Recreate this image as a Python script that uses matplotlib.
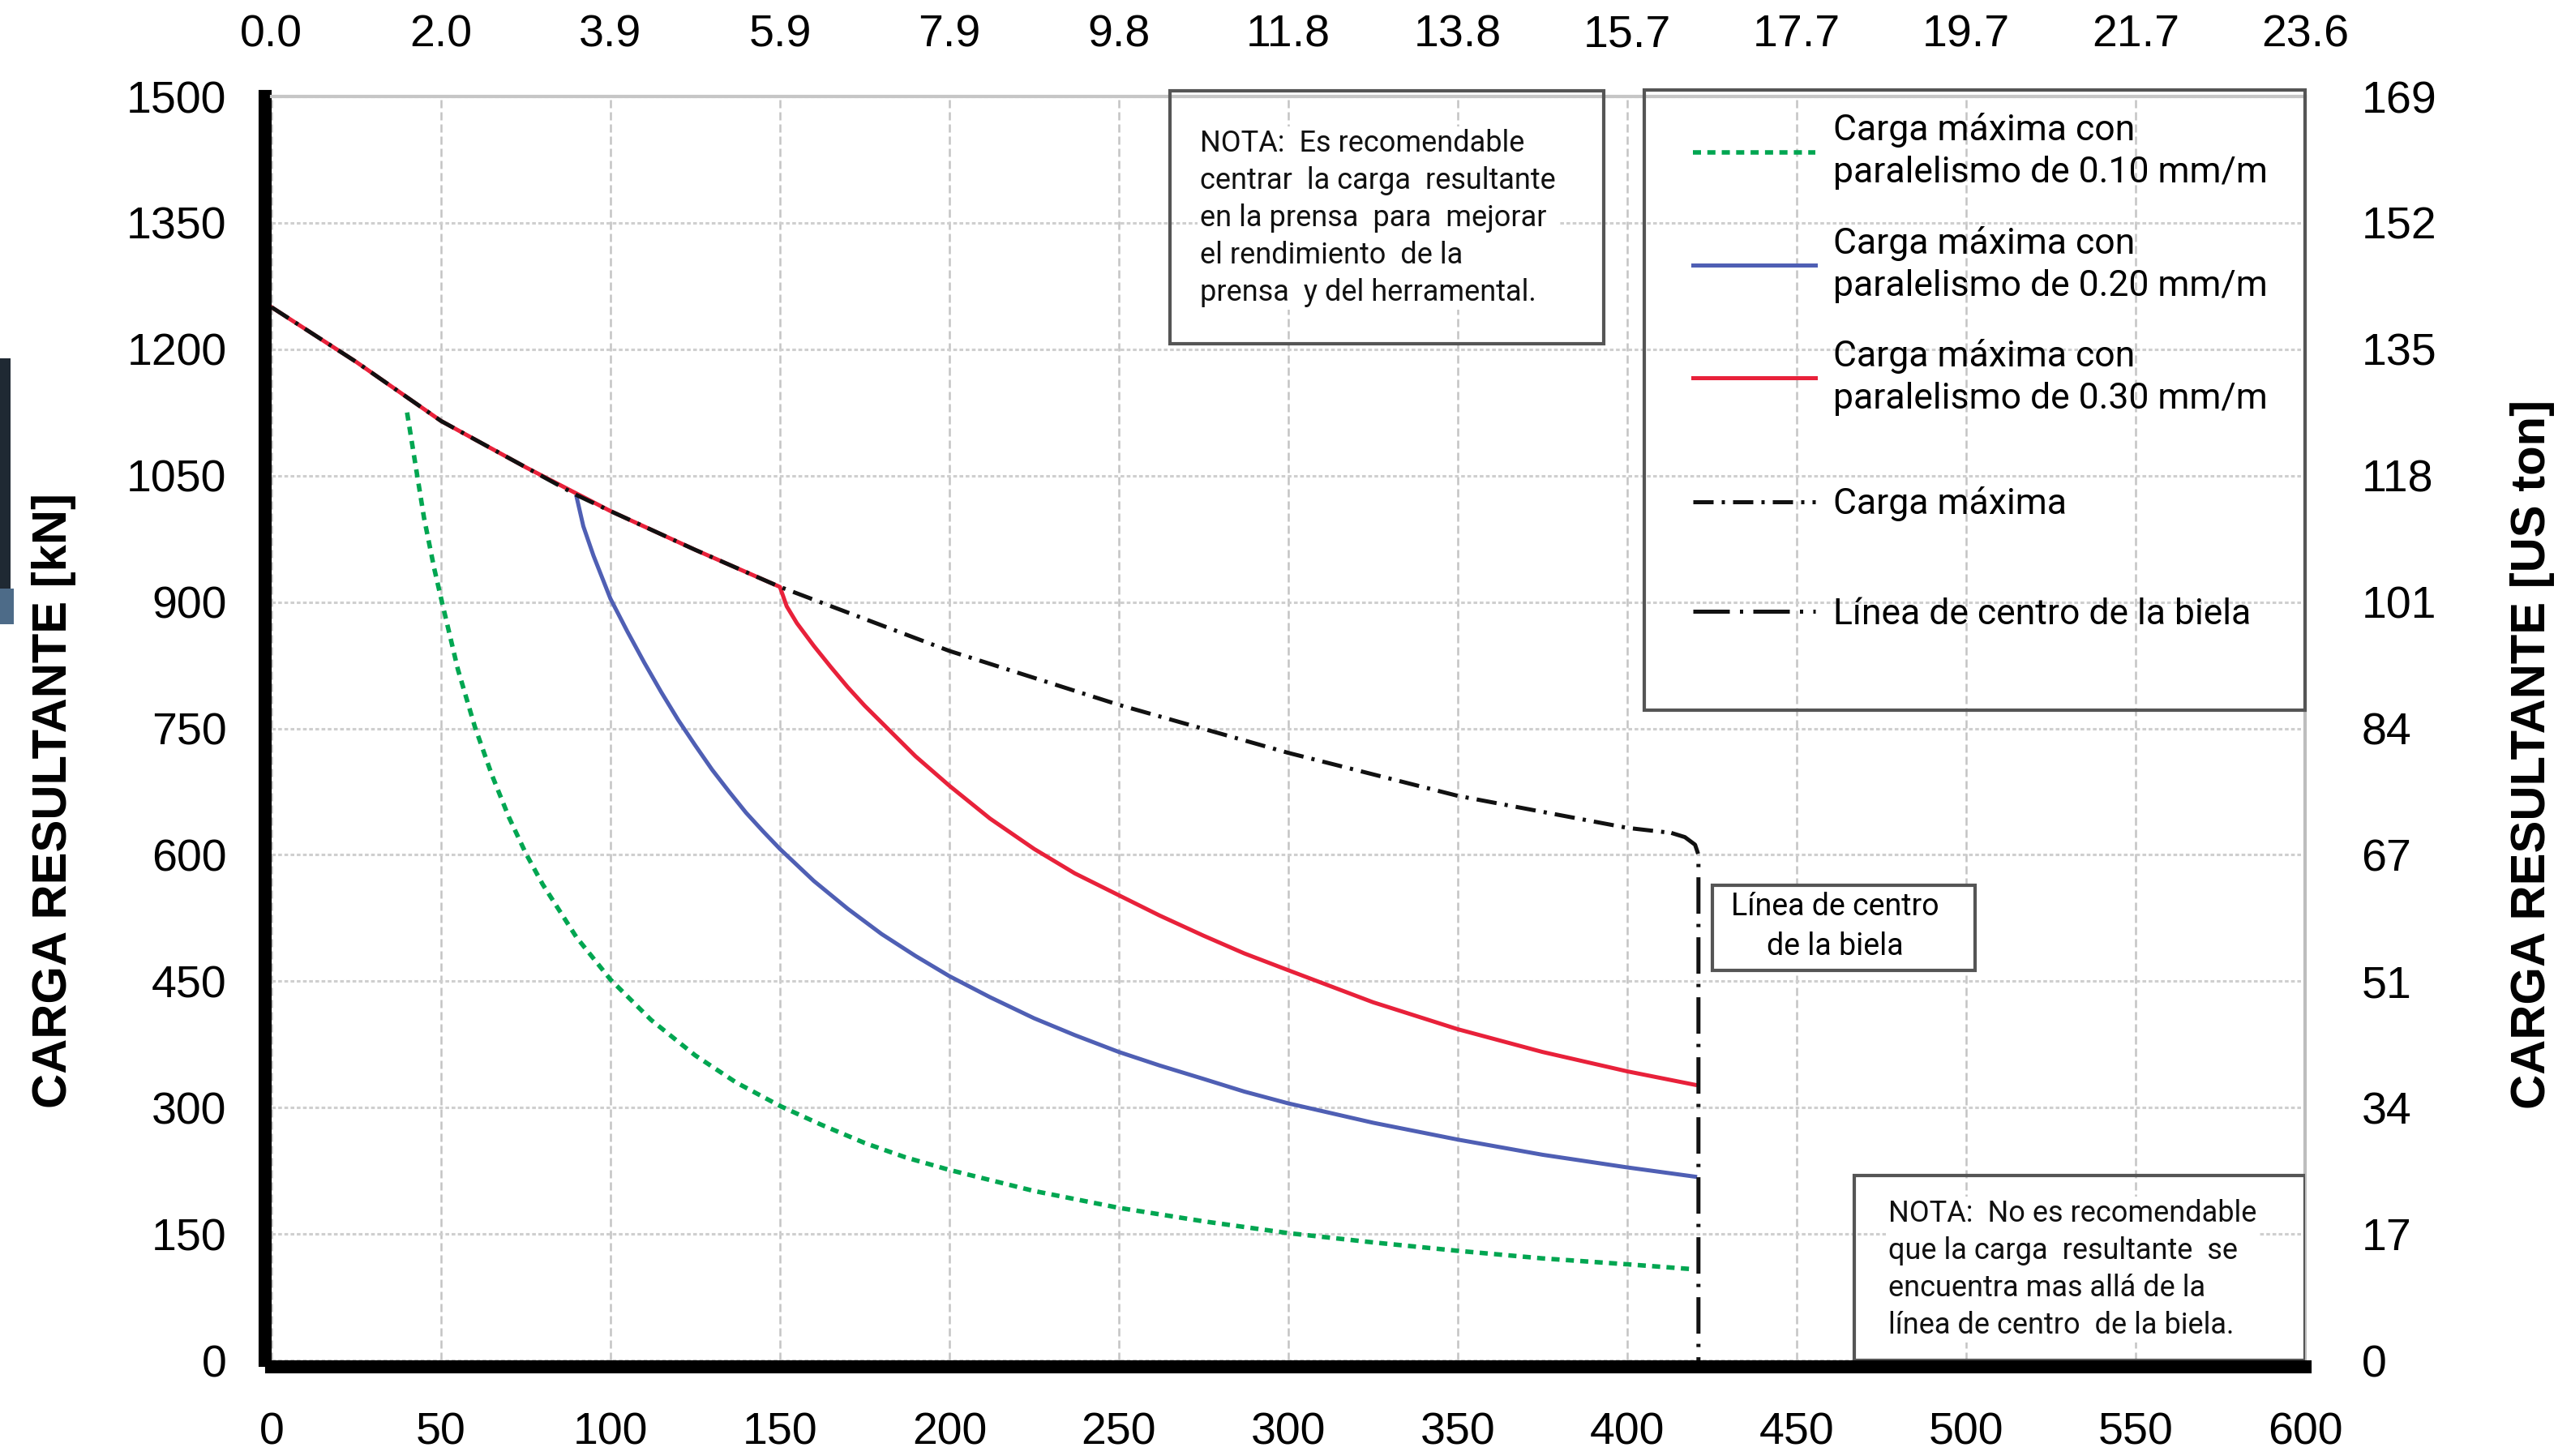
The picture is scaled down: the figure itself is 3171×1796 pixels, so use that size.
import matplotlib
matplotlib.use('Agg')
import matplotlib.pyplot as plt
from matplotlib import font_manager
from matplotlib.patches import Rectangle

# font pick: Arial-like face for ticks/axis titles, plain sans for notes/legend
def pick_font(*names):
    for n in names:
        try:
            font_manager.findfont(n, fallback_to_default=False)
            return n
        except ValueError:
            pass
    return 'DejaVu Sans'

ARIAL = pick_font('Liberation Sans Narrow', 'Liberation Sans', 'DejaVu Sans')
PLAIN = pick_font('Roboto', 'DejaVu Sans')
TICK_SIZE = 24 if 'Narrow' in ARIAL else 20

# --- data (stroke in mm, load in kN) ---
x_max = [0, 25, 50, 75, 90, 100, 125, 150, 200, 250, 300, 350, 400, 413]
y_max = [1250, 1185, 1115, 1060, 1027, 1008, 962, 918, 842, 778, 721, 670, 632, 626]

x_010 = [40, 42, 45, 48, 50, 55, 60, 65, 70, 75, 80, 90, 100, 112, 125, 137, 150,
         162, 175, 187, 200, 225, 250, 275, 300, 325, 350, 375, 400, 420]
y_010 = [1125, 1075, 1000, 940, 905, 820, 752, 695, 645, 602, 565, 502, 452, 404, 362,
         330, 302, 280, 258, 241, 226, 201, 181, 165, 151, 140, 130, 121, 114, 108]

x_020 = [90, 92, 95, 100, 105, 110, 115, 120, 125, 130, 135, 140, 145, 150, 160, 170,
         180, 190, 200, 212, 225, 237, 250, 262, 275, 287, 300, 325, 350, 375, 400, 420]
y_020 = [1025, 990, 955, 904, 865, 828, 793, 760, 730, 701, 675, 650, 628, 607, 569, 536,
         506, 480, 456, 431, 406, 386, 366, 350, 334, 319, 305, 282, 262, 244, 229, 218]

x_030 = [0, 25, 50, 75, 100, 125, 150, 152, 155, 160, 165, 170, 175, 183, 190, 200,
         212, 225, 237, 250, 262, 275, 287, 300, 325, 350, 375, 400, 420]
y_030 = [1250, 1185, 1115, 1060, 1008, 962, 918, 895, 875, 848, 823, 799, 777, 745,
         717, 682, 643, 607, 578, 552, 528, 504, 483, 463, 425, 393, 366, 343, 327]

x_biela = [413, 417, 420, 421, 421]
y_biela = [626, 621, 612, 600, 0]

x_ticks = [0, 50, 100, 150, 200, 250, 300, 350, 400, 450, 500, 550, 600]
x_top_labels = ['0.0', '2.0', '3.9', '5.9', '7.9', '9.8', '11.8', '13.8', '15.7',
                '17.7', '19.7', '21.7', '23.6']
y_ticks = [0, 150, 300, 450, 600, 750, 900, 1050, 1200, 1350, 1500]
y_right_labels = ['0', '17', '34', '51', '67', '84', '101', '118', '135', '152', '169']

fig = plt.figure(figsize=(15.855, 8.98), dpi=200)
ax = fig.add_axes([0.1056, 0.0657, 0.791, 0.868])
ax.set_xlim(0, 600)
ax.set_ylim(0, 1500)

# grid
ax.set_xticks(x_ticks)
ax.set_yticks(y_ticks)
ax.grid(axis='x', color='#c4c4c4', linestyle=(0, (4, 2)), linewidth=0.9)
ax.grid(axis='y', color='#cfcfcf', linestyle=(0, (1.5, 1)), linewidth=1.1)
ax.set_axisbelow(True)

# curves
l_red, = ax.plot(x_030, y_030, color='#e8213a', lw=1.8, label='Carga máxima con\nparalelismo de 0.30 mm/m', zorder=3)
l_blue, = ax.plot(x_020, y_020, color='#4f5fb4', lw=1.8, label='Carga máxima con\nparalelismo de 0.20 mm/m', zorder=3)
l_green, = ax.plot(x_010, y_010, color='#00a651', lw=2.0, dashes=(1.8, 1.4),
                   label='Carga máxima con\nparalelismo de 0.10 mm/m', zorder=3)
l_max, = ax.plot(x_max, y_max, color='#111111', lw=1.8, dashes=(5, 2, 0.8, 2),
                 label='Carga máxima', zorder=4)
l_biela, = ax.plot(x_biela, y_biela, color='#111111', lw=1.8, dashes=(9, 2.5, 0.8, 2.5),
                   label='Línea de centro de la biela', zorder=4)

# spines
for side in ['left', 'bottom']:
    ax.spines[side].set_color('black')
    ax.spines[side].set_linewidth(5.8)
    ax.spines[side].set_position(('outward', 2.9))
    ax.spines[side].set_capstyle('projecting')
ax.spines['top'].set_color('#c6c6c6')
ax.spines['top'].set_linewidth(1.5)
ax.spines['right'].set_color('#bdbdbd')
ax.spines['right'].set_linewidth(1.5)

ax.tick_params(axis='both', length=0, labelsize=TICK_SIZE)
ax.tick_params(axis='x', pad=20)
ax.tick_params(axis='y', pad=17)
for lab in ax.get_xticklabels() + ax.get_yticklabels():
    lab.set_fontfamily(ARIAL)

# secondary scales: inches on top, US ton on the right
top = ax.secondary_xaxis('top')
top.set_xticks(x_ticks)
top.set_xticklabels(x_top_labels, fontfamily=ARIAL, fontsize=TICK_SIZE)
top.tick_params(length=0, pad=18)
top.spines['top'].set_visible(False)

right = ax.secondary_yaxis('right')
right.set_yticks(y_ticks)
right.set_yticklabels(y_right_labels, fontfamily=ARIAL, fontsize=TICK_SIZE)
right.tick_params(length=0, pad=25)
right.spines['right'].set_visible(False)

fig.text(0.0211, 0.4504, 'CARGA RESULTANTE [kN]', rotation=90, ha='center', va='center',
         fontfamily=ARIAL, fontweight='bold', fontsize=21.5)
fig.text(0.985, 0.482, 'CARGA RESULTANTE [US ton]', rotation=90, ha='center', va='center',
         fontfamily=ARIAL, fontweight='bold', fontsize=21.5)

# legend inside a drawn frame: two groups with their own spacing
ax.add_patch(Rectangle((405, 772), 195, 736, fill=False, edgecolor='#555555', lw=1.5,
                       zorder=5, clip_on=False))
leg_kw = dict(loc='upper left', frameon=False, handlelength=3.4, handletextpad=0.5,
              borderpad=0, borderaxespad=0, prop={'family': PLAIN, 'size': 16})
leg1 = ax.legend(handles=[l_green, l_blue, l_red], bbox_to_anchor=(0.699, 0.987),
                 labelspacing=1.0, **leg_kw)
for t in leg1.get_texts():
    t.set_linespacing(1.3)
leg1.set_zorder(6)
ax.add_artist(leg1)
leg_kw['loc'] = 'center left'
leg2 = ax.legend(handles=[l_max, l_biela], bbox_to_anchor=(0.699, 0.634),
                 labelspacing=2.1, **leg_kw)
leg2.set_zorder(6)

# note boxes
note_kw = dict(fontfamily=PLAIN, fontsize=13, linespacing=1.36, zorder=7, color='#111111')
ax.add_patch(Rectangle((265, 1207), 128, 300, facecolor='none', edgecolor='#555555',
                       lw=1.5, zorder=6, clip_on=False))
ax.text(274, 1356, 'NOTA:  Es recomendable\ncentrar  la carga  resultante\n'
        'en la prensa  para  mejorar\nel rendimiento  de la\nprensa  y del herramental.',
        ha='left', va='center', bbox=dict(fc='white', ec='none', pad=1), **note_kw)

ax.add_patch(Rectangle((467, 0), 133, 219, facecolor='none', edgecolor='#555555',
                       lw=1.5, zorder=6))
ax.text(477, 108, 'NOTA:  No es recomendable\nque la carga  resultante  se\n'
        'encuentra mas allá de la\nlínea de centro  de la biela.',
        ha='left', va='center', bbox=dict(fc='white', ec='none', pad=1), **note_kw)

ax.add_patch(Rectangle((425, 463), 77.6, 101, facecolor='white', edgecolor='#555555',
                       lw=1.5, zorder=6))
ax.text(461.3, 515, 'Línea de centro\nde la biela', ha='center', va='center',
        fontfamily=PLAIN, fontsize=13.5, linespacing=1.4, zorder=7)

# stray image fragment on the left edge of the source
fig.patches.append(Rectangle((0, 0.578), 0.0042, 0.176, transform=fig.transFigure,
                             facecolor='#1f2933', edgecolor='none'))
fig.patches.append(Rectangle((0, 0.571), 0.0055, 0.025, transform=fig.transFigure,
                             facecolor='#4d6b88', edgecolor='none'))

fig.savefig('out.png', dpi=200, facecolor='white')
